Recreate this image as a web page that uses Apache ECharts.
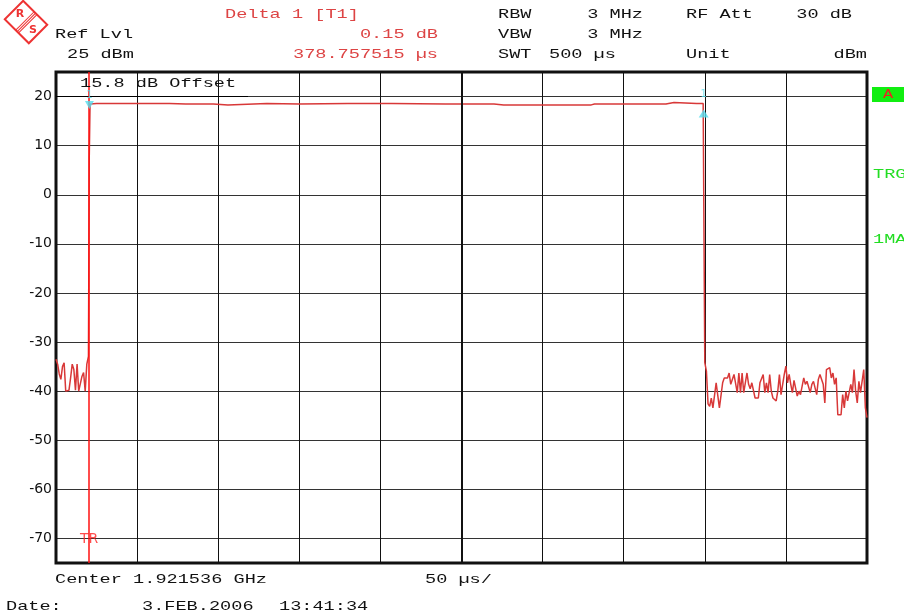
<!DOCTYPE html>
<html><head><meta charset="utf-8">
<script src="https://cdn.jsdelivr.net/npm/echarts@6/dist/echarts.min.js"></script>
<style>html,body{margin:0;padding:0;background:#fff}#c{width:904px;height:616px}</style>
</head><body><div id="c"></div>
<script>
// ---- data ----
const sweepRange = [0, 500];          // µs, 50 µs/div
const levelRange = [-75, 25];         // dBm, ref level 25 dBm, 10 dB/div
const traceTime = [
  0,1,2,3,4,5,6,7,8,9,10,11,12,13,14,15,16,17,18,19,20,20.5,21,
  25,40,50,51,52,70,80,97,98,106,107,130,150,180,205,206,207,240,270,276,300,330,332,360,376,377,381,382,395,399,
  400,401,402,403,404,405,406,407,408,409,410,411,412,413,414,415,416,417,418,419,420,
  421,422,423,424,425,426,427,428,429,430,431,432,433,434,435,436,437,438,439,440,
  441,442,443,444,445,446,447,448,449,450,451,452,453,454,455,456,457,458,459,460,
  461,462,463,464,465,466,467,468,469,470,471,472,473,474,475,476,477,478,479,480,
  481,482,483,484,485,486,487,488,489,490,491,492,493,494,495,496,497,498,499,500
];
const traceLevel = [
  -33.5,-34.5,-36.5,-37.6,-35.0,-34.2,-40.0,-40.0,-39.8,-37.3,-34.5,-35.6,-39.8,-34.5,-40.0,-40.0,-37.0,-36.2,-40.0,-34.5,-32.9,7.5,18.5,
  18.6,18.6,18.6,18.3,18.6,18.6,18.5,18.5,18.3,18.3,18.5,18.6,18.5,18.6,18.6,18.3,18.6,18.5,18.5,18.3,18.3,18.3,18.5,18.5,18.5,18.8,18.8,18.5,18.6,18.6,
  -34.2,-35.9,-42.6,-43.1,-41.4,-43.4,-43.4,-38.3,-38.3,-43.4,-43.4,-38.3,-37.3,-37.3,-37.3,-36.3,-38.6,-38.6,-36.6,-36.6,-40.3,
  -36.3,-40.3,-36.3,-40.3,-40.3,-36.3,-38.6,-39.5,-38.3,-38.3,-41.4,-41.4,-41.4,-38.3,-38.3,-36.6,-40.3,-38.3,-40.3,-36.6,
  -40.0,-41.4,-41.4,-42.0,-40.0,-36.6,-40.7,-40.7,-36.6,-34.9,-38.3,-36.6,-38.6,-40.3,-37.8,-37.8,-41.0,-40.0,-40.7,-40.7,
  -37.3,-38.6,-38.0,-38.0,-40.3,-38.6,-38.0,-38.0,-40.7,-37.6,-36.6,-36.6,-38.6,-42.4,-35.6,-35.6,-35.2,-37.3,-36.3,-38.6,
  -37.3,-44.8,-44.8,-44.8,-40.7,-43.4,-40.0,-42.0,-42.0,-38.6,-40.3,-35.6,-40.0,-42.4,-38.0,-40.3,-40.3,-35.6,-43.4,-45.4
];
const triggerTime = 20.4;
const trLabelLevel = -70;
const marker1 = [20.6, 18.5];
const deltaMarker1 = [399.3, 18.6];
const centreTime = 250;

const headerTexts = [
  ['Delta 1 [T1]', 225, 15, 'red', 'left'],
  ['Ref Lvl', 55, 34.5, 'black', 'left'],
  ['0.15 dB', 438, 34.5, 'red', 'right'],
  ['25 dBm', 67, 54.5, 'black', 'left'],
  ['378.757515 \u00b5s', 438, 54.5, 'red', 'right'],
  ['RBW', 498, 15, 'black', 'left'],
  ['3 MHz', 643, 15, 'black', 'right'],
  ['RF Att', 686, 15, 'black', 'left'],
  ['30 dB', 852, 15, 'black', 'right'],
  ['VBW', 498, 34.5, 'black', 'left'],
  ['3 MHz', 643, 34.5, 'black', 'right'],
  ['SWT', 498, 54.5, 'black', 'left'],
  ['500 \u00b5s', 549, 54.5, 'black', 'left'],
  ['Unit', 686, 54.5, 'black', 'left'],
  ['dBm', 867, 54.5, 'black', 'right'],
  ['15.8 dB Offset', 80, 84, 'black', 'left'],
  ['TRG', 873, 174.5, 'green', 'left'],
  ['1MA', 873, 239.5, 'green', 'left'],
  ['Center 1.921536 GHz', 55, 579.5, 'black', 'left'],
  ['50 \u00b5s/', 425, 579.5, 'black', 'left'],
  ['Date:', 6, 606.5, 'black', 'left'],
  ['3.FEB.2006', 142, 606.5, 'black', 'left'],
  ['13:41:34', 279, 606.5, 'black', 'left']
];

// ---- chart ----
const COL = {black:'#111111', red:'#DD4444', green:'#22DD22'};
const FONT = '13px "Liberation Mono"';
function txt(t, x, y, c, align) {
  return {type:'text', x:x, y:y, scaleX:1.43, scaleY:1, silent:true, z:100,
    style:{text:t, fill:COL[c], font:FONT, align:align, verticalAlign:'middle',
           textAlign:align, textVerticalAlign:'middle'}};
}
const graphics = headerTexts.map(h => txt(h[0], h[1], h[2], h[3], h[4]));
// Offset box underline
graphics.push({type:'line', silent:true, z:5, shape:{x1:56, y1:96.5, x2:248, y2:96.5}, style:{stroke:'#000', lineWidth:1.2}});
// "A" badge
graphics.push({type:'rect', silent:true, z:90, shape:{x:872, y:87, width:32, height:15}, style:{fill:'#11EE11'}});
graphics.push({type:'text', x:888, y:95, silent:true, z:100, scaleX:1.3,
  style:{text:'A', fill:'#EE2222', font:'13px "Liberation Mono"', align:'center', verticalAlign:'middle', textAlign:'center', textVerticalAlign:'middle'}});
// R&S logo
graphics.push({type:'group', x:26, y:22, rotation:Math.PI/4, silent:true, children:[
  {type:'rect', shape:{x:-13, y:-17, width:26, height:34}, style:{fill:'none', stroke:'#EE3333', lineWidth:2}},
  {type:'line', shape:{x1:-13, y1:-1.5, x2:13, y2:-1.5}, style:{stroke:'#EE3333', lineWidth:1}},
  {type:'line', shape:{x1:-13, y1:0.5, x2:13, y2:0.5}, style:{stroke:'#EE3333', lineWidth:1}},
  {type:'line', shape:{x1:-13, y1:2.5, x2:13, y2:2.5}, style:{stroke:'#EE3333', lineWidth:1}}
]});
graphics.push({type:'text', x:20, y:14, silent:true, style:{text:'R', fill:'#EE3333', font:'bold 11px "DejaVu Sans"', align:'center', verticalAlign:'middle'}});
graphics.push({type:'text', x:33, y:30, silent:true, style:{text:'S', fill:'#EE3333', font:'bold 11px "DejaVu Sans"', align:'center', verticalAlign:'middle'}});

const data = traceTime.map((t, i) => [t, traceLevel[i]]);
const option = {
  animation: false,
  backgroundColor: '#ffffff',
  grid: {left:56, top:72, width:811, height:491, show:true, borderColor:'#111', borderWidth:3, backgroundColor:'transparent', z:3},
  xAxis: {type:'value', min:sweepRange[0], max:sweepRange[1], interval:50,
    axisLine:{show:false}, axisTick:{show:false}, axisLabel:{show:false},
    splitLine:{show:true, lineStyle:{color:'#111', width:1}}},
  yAxis: {type:'value', min:levelRange[0], max:levelRange[1], interval:5,
    axisLine:{show:false}, axisTick:{show:false},
    axisLabel:{show:true, margin:4, color:'#111', fontFamily:'DejaVu Sans', fontSize:14,
      formatter: v => (v % 10 === 0 && v > levelRange[0] && v < levelRange[1]) ? String(v) : ''},
    splitLine:{show:true, lineStyle:{color:['rgba(0,0,0,0)', '#333'], width:1}}},
  series: [
    {type:'line', data:[], silent:true, z:2,
     markLine:{silent:true, symbol:'none', label:{show:false}, animation:false,
       lineStyle:{color:'#111', width:2, type:'solid'}, data:[{xAxis:centreTime}]}},
    {type:'line', data:data, showSymbol:false, silent:true, z:4,
     lineStyle:{color:'#D83838', width:1.5}},
    {type:'line', data:[], silent:true, z:5,
     markLine:{silent:true, symbol:'none', label:{show:false}, animation:false,
       lineStyle:{color:'#FF1010', width:1.5, type:'solid'}, data:[{xAxis:triggerTime}]}},
    {type:'scatter', data:[[triggerTime, trLabelLevel]], symbolSize:0, silent:true, z:6,
     label:{show:true, position:'inside', formatter:'TR', color:'#FF2020', fontFamily:'DejaVu Sans', fontSize:14, offset:[0,1]}},
    {type:'scatter', data:[marker1], symbol:'triangle', symbolRotate:180, symbolSize:[9,8], symbolOffset:[0,1], silent:true, z:7,
     itemStyle:{color:'#55DDEE'}},
    {type:'scatter', data:[deltaMarker1], symbol:'triangle', symbolSize:[10,8], symbolOffset:[0,10], silent:true, z:7,
     itemStyle:{color:'#55DDEE'}},
    {type:'scatter', data:[marker1, deltaMarker1], symbolSize:0, silent:true, z:8,
     label:{show:true, position:'inside', formatter:'1', color:'#55DDEE', fontFamily:'DejaVu Sans', fontSize:10, offset:[0,-9]}}
  ],
  graphic: graphics
};
const chart = echarts.init(document.getElementById('c'), null, {renderer:'canvas'});
chart.setOption(option);
</script></body></html>
